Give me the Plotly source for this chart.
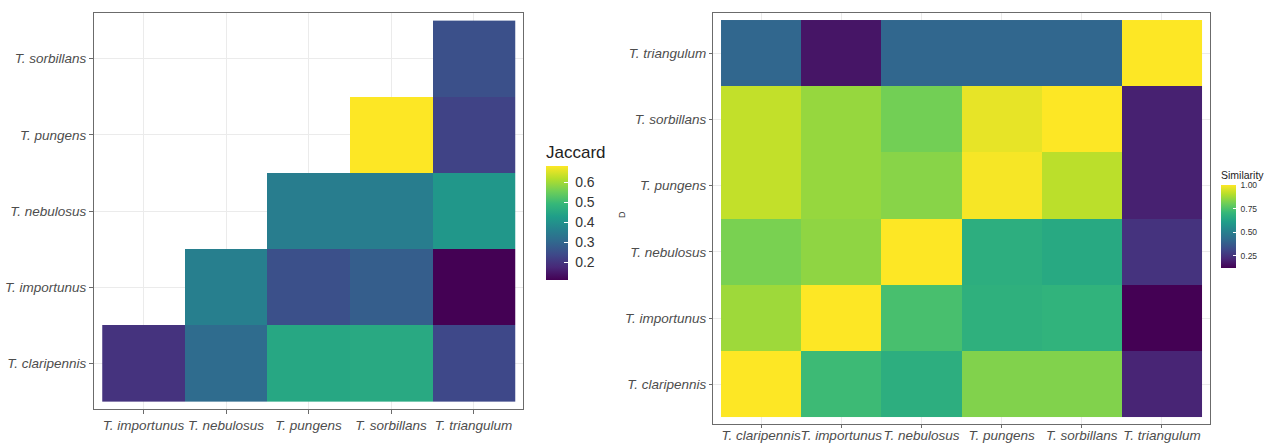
import plotly.graph_objects as go

# ---- data ----
left_x = ["T. importunus", "T. nebulosus", "T. pungens", "T. sorbillans", "T. triangulum"]
left_y = ["T. claripennis", "T. importunus", "T. nebulosus", "T. pungens", "T. sorbillans"]
jaccard_claripennis = [0.195, 0.31, 0.45, 0.455, 0.235]
jaccard_importunus = [None, 0.355, 0.25, 0.28, 0.11]
jaccard_nebulosus = [None, None, 0.35, 0.35, 0.41]
jaccard_pungens = [None, None, None, 0.68, 0.225]
jaccard_sorbillans = [None, None, None, None, 0.25]

right_cats = ["T. claripennis", "T. importunus", "T. nebulosus", "T. pungens", "T. sorbillans", "T. triangulum"]
sim_claripennis = [1.00, 0.72, 0.67, 0.83, 0.83, 0.21]
sim_importunus = [0.87, 1.00, 0.74, 0.68, 0.69, 0.12]
sim_nebulosus = [0.82, 0.85, 1.00, 0.67, 0.65, 0.25]
sim_pungens = [0.92, 0.86, 0.84, 0.99, 0.91, 0.20]
sim_sorbillans = [0.92, 0.86, 0.81, 0.97, 1.00, 0.20]
sim_triangulum = [0.41, 0.17, 0.41, 0.41, 0.41, 1.00]

jaccard_ticks = [0.2, 0.3, 0.4, 0.5, 0.6]
jaccard_ticktext = ["0.2", "0.3", "0.4", "0.5", "0.6"]
sim_ticks = [0.25, 0.50, 0.75, 1.00]
sim_ticktext = ["0.25", "0.50", "0.75", "1.00"]

W, H = 1265, 444
def fx(px): return px / W
def fy(py): return 1 - py / H

NB = "\u00a0"

fig = go.Figure()

fig.add_trace(go.Heatmap(
    x=left_x, y=left_y,
    z=[jaccard_claripennis, jaccard_importunus, jaccard_nebulosus, jaccard_pungens, jaccard_sorbillans],
    colorscale="Viridis", zmin=0.11, zmax=0.68,
    xaxis="x", yaxis="y", hoverongaps=False,
    colorbar=dict(
        title=dict(text="Jaccard", side="top", font=dict(family="Liberation Sans", size=17, color="#222")),
        x=fx(546), xanchor="left", y=fy(142), yanchor="top",
        lenmode="pixels", len=138, thicknessmode="pixels", thickness=22,
        tickvals=jaccard_ticks, ticktext=[NB + t for t in jaccard_ticktext],
        ticks="inside", ticklen=4, tickcolor="white",
        tickfont=dict(family="Liberation Sans", size=14, color="#333"),
        outlinewidth=0, xpad=0, ypad=0,
    ),
))

fig.add_trace(go.Heatmap(
    x=right_cats, y=right_cats,
    z=[sim_claripennis, sim_importunus, sim_nebulosus, sim_pungens, sim_sorbillans, sim_triangulum],
    colorscale="Viridis", zmin=0.12, zmax=1.0,
    xaxis="x2", yaxis="y2",
    colorbar=dict(
        title=dict(text="Similarity", side="top", font=dict(family="Liberation Sans", size=10.5, color="#222")),
        x=fx(1221), xanchor="left", y=fy(168), yanchor="top",
        lenmode="pixels", len=100, thicknessmode="pixels", thickness=15,
        tickvals=sim_ticks, ticktext=[NB + t for t in sim_ticktext],
        ticks="inside", ticklen=3, tickcolor="white",
        tickfont=dict(family="Liberation Sans", size=8.5, color="#333"),
        outlinewidth=0, xpad=0, ypad=0,
    ),
))

axis_common = dict(
    showline=True, mirror=True, linecolor="#6b6b6b", linewidth=1,
    ticks="outside", tickcolor="#6b6b6b",
    showgrid=True, gridcolor="#ebebeb", gridwidth=1, zeroline=False,
    automargin=False, tickangle=0,
    tickfont=dict(family="Liberation Sans", size=13.5, color="#4d4d4d", style="italic"),
)

fig.update_layout(
    width=W, height=H,
    margin=dict(l=0, r=0, t=0, b=0),
    paper_bgcolor="white", plot_bgcolor="white",
    xaxis=dict(domain=[fx(94), fx(523)], anchor="y", type="category",
               range=[-0.6, 4.6], ticklen=4, **axis_common),
    yaxis=dict(domain=[fy(409), fy(13)], anchor="x", type="category",
               range=[-0.6, 4.6], ticklen=4, **axis_common),
    xaxis2=dict(domain=[fx(713), fx(1210)], anchor="y2", type="category",
                range=[-0.6, 5.6], ticklen=3, ticklabelstandoff=-4, **axis_common),
    yaxis2=dict(domain=[fy(424), fy(13.4)], anchor="x2", type="category",
                range=[-0.6, 5.6], ticklen=3, **axis_common),
    annotations=[dict(text="D", textangle=-90, showarrow=False,
                      x=fx(622), y=fy(215), xref="paper", yref="paper",
                      font=dict(family="Liberation Sans", size=9, color="#333"))],
)

fig.write_html("out.html", config={"displayModeBar": False},
               post_script="document.body.style.margin='0';document.body.style.overflow='hidden';")
